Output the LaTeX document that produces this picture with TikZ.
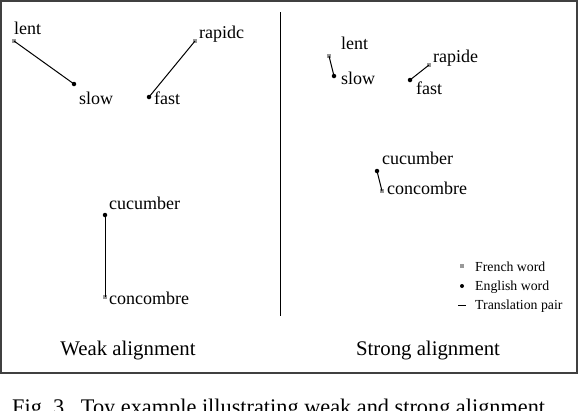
\documentclass[tikz,border=0pt]{standalone}
\usepackage{fontspec}
\setmainfont{Liberation Serif}
\begin{document}
\begin{tikzpicture}[x=1pt,y=-1pt,
  fr/.style={fill=black!40,minimum size=4.5pt,inner sep=0pt,outer sep=0pt,rectangle},
  en/.style={fill=black,minimum size=4.5pt,inner sep=0pt,outer sep=0pt,circle},
  word/.style={anchor=base west,inner sep=0pt,font=\fontsize{18}{20}\selectfont},
  leg/.style={anchor=base west,inner sep=0pt,font=\fontsize{13.8}{15}\selectfont},
  title/.style={anchor=base,inner sep=0pt,font=\fontsize{20.8}{22}\selectfont},
  pair/.style={draw=black,line width=1pt}]
\useasboundingbox (0,0) rectangle (578,410);
\clip (0,0) rectangle (578,410);
\fill[white] (0,0) rectangle (578,410);
\draw[draw=black!75,line width=2pt] (1,1) rectangle (576.5,372.5);
\coordinate (dtop) at (280,12);
\coordinate (dbot) at (280,316);
\draw[line width=1pt] (dtop) -- (dbot);
% left panel
\node[fr] (wlent) at (14,41) {};
\node[en] (wslow) at (74,84) {};
\node[en] (wfast) at (149,97) {};
\node[fr] (wrap) at (195,41) {};
\node[en] (wcuc) at (105,215) {};
\node[fr] (wcon) at (105,297) {};
\draw[pair] (wlent.center) -- (wslow.center);
\draw[pair] (wrap.center) -- (wfast.center);
\draw[pair] (wcuc.center) -- (wcon.center);
\node[word] (twlent) at (14,34) {lent};
\node[word] (twslow) at (79,104) {slow};
\node[word] (twfast) at (154,104) {fast};
\node[word] (twrap) at (199,38) {rapidc};
\node[word] (twcuc) at (109,209) {cucumber};
\node[word] (twcon) at (109,304) {concombre};
\node[title] (tweak) at (128,355) {Weak alignment};
% right panel
\node[fr] (slent) at (329,56) {};
\node[en] (sslow) at (334,76) {};
\node[fr] (srap) at (429,65) {};
\node[en] (sfast) at (410,80) {};
\node[en] (scuc) at (377,171) {};
\node[fr] (scon) at (382,191) {};
\draw[pair] (slent.center) -- (sslow.center);
\draw[pair] (srap.center) -- (sfast.center);
\draw[pair] (scuc.center) -- (scon.center);
\node[word] (tslent) at (341,49) {lent};
\node[word] (tsslow) at (341,84) {slow};
\node[word] (tsrap) at (433,62) {rapide};
\node[word] (tsfast) at (416,94) {fast};
\node[word] (tscuc) at (382,164) {cucumber};
\node[word] (tscon) at (387,194) {concombre};
\node[title] (tstrong) at (428,355) {Strong alignment};
% legend
\node[fr,minimum size=4pt] (lgfr) at (462,266) {};
\node[en,minimum size=4pt] (lgen) at (462,286) {};
\coordinate (lga) at (458,305);
\coordinate (lgb) at (466,305);
\draw[line width=0.8pt] (lga) -- (lgb);
\node[leg] (tlgfr) at (475,271) {French word};
\node[leg] (tlgen) at (475,290) {English word};
\node[leg] (tlgtr) at (475,309) {Translation pair};
% caption (cropped)
\node[anchor=base west,inner sep=0pt,font=\fontsize{22.3}{24}\selectfont] (cap) at (12,414) {Fig.~3.\ \ Toy example illustrating weak and strong alignment.};
\end{tikzpicture}
\end{document}
